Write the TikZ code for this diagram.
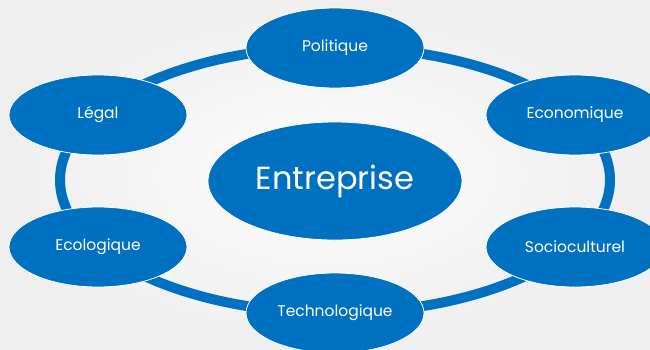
\documentclass[tikz,border=0pt]{standalone}
\usepackage{fontspec}
\setmainfont{Poppins}
\usetikzlibrary{shapes.geometric}
\definecolor{bluefill}{HTML}{0070C0}
\definecolor{bgwhite}{HTML}{FDFDFD}
\definecolor{bggray}{HTML}{EFEFEF}
\begin{document}
\begin{tikzpicture}[x=1pt,y=-1pt,
  pod/.style={ellipse, fill=bluefill, draw=white, line width=0.8pt,
    minimum width=178pt, minimum height=80pt, inner sep=0pt,
    text=white, font=\fontsize{15.5}{18}\selectfont},
  hub/.style={ellipse, fill=bluefill, draw=white, line width=0.8pt,
    minimum width=254pt, minimum height=118pt, inner sep=0pt,
    text=white, font=\fontsize{32}{38}\selectfont},
  ring/.style={draw=bluefill, line width=10pt}]
  % page and soft background
  \useasboundingbox (0,0) rectangle (650,349);
  \fill[bggray] (0,0) rectangle (650,349);
  \shade[inner color=bgwhite, outer color=bggray] (0,0) rectangle (650,349);
  % orbit joining the factors
  \draw[ring] (335,180) ellipse [x radius=275, y radius=133];
  % centre
  \node[hub] (core) at (335,181) {Entreprise};
  % surrounding factors
  \node[pod] (pol) at (335,48) {Politique};
  \node[pod] (leg) at (98,115) {Légal};
  \node[pod] (eco) at (575,115) {Economique};
  \node[pod] (ecl) at (98,247) {Ecologique};
  \node[pod] (soc) at (575,247) {Socioculturel};
  \node[pod] (tec) at (335,313) {Technologique};
\end{tikzpicture}
\end{document}
